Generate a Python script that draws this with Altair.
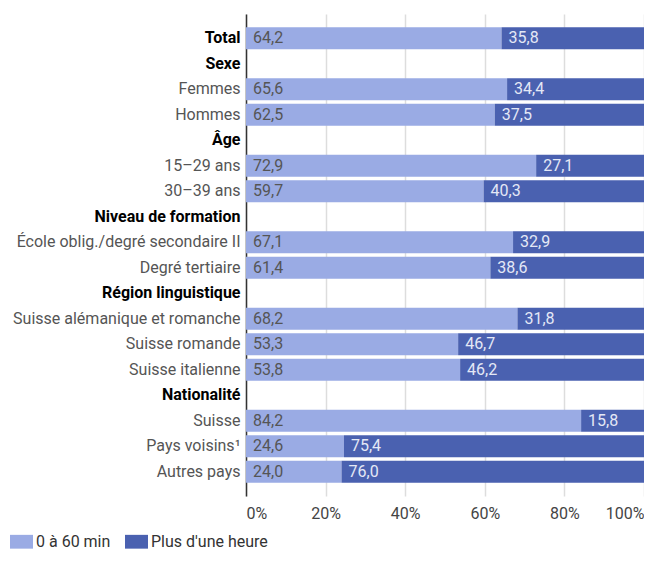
import altair as alt
import pandas as pd

categories = [
    "Total", "Sexe", "Femmes", "Hommes", "Âge", "15–29 ans", "30–39 ans",
    "Niveau de formation", "École oblig./degré secondaire II", "Degré tertiaire",
    "Région linguistique", "Suisse alémanique et romanche", "Suisse romande",
    "Suisse italienne", "Nationalité", "Suisse", "Pays voisins¹", "Autres pays",
]
bold_labels = ["Total", "Sexe", "Âge", "Niveau de formation", "Région linguistique", "Nationalité"]

data_categories = [
    "Total", "Femmes", "Hommes", "15–29 ans", "30–39 ans",
    "École oblig./degré secondaire II", "Degré tertiaire",
    "Suisse alémanique et romanche", "Suisse romande", "Suisse italienne",
    "Suisse", "Pays voisins¹", "Autres pays",
]
short_trip = [64.2, 65.6, 62.5, 72.9, 59.7, 67.1, 61.4, 68.2, 53.3, 53.8, 84.2, 24.6, 24.0]
long_trip = [35.8, 34.4, 37.5, 27.1, 40.3, 32.9, 38.6, 31.8, 46.7, 46.2, 15.8, 75.4, 76.0]
series = ["0 à 60 min", "Plus d'une heure"]
colors = ["#9aabe4", "#4a61b0"]

rows = []
for c, a, b in zip(data_categories, short_trip, long_trip):
    rows.append({"cat": c, "serie": series[0], "order": 0, "value": a,
                 "label": f"{a:.1f}".replace(".", ",")})
    rows.append({"cat": c, "serie": series[1], "order": 1, "value": b,
                 "label": f"{b:.1f}".replace(".", ",")})
df = pd.DataFrame(rows)

font = "Roboto"
fs = 16
bold_expr = "indexof(" + str(bold_labels).replace("'", '"') + ", datum.value) >= 0"

y = alt.Y(
    "cat:N",
    sort=categories,
    scale=alt.Scale(domain=categories, paddingInner=0.136, paddingOuter=0.52),
    axis=alt.Axis(
        title=None, ticks=False, grid=False, domain=True, domainColor="#333333",
        domainWidth=1.5, labelPadding=6, labelFont=font, labelFontSize=fs,
        labelColor=alt.ExprRef(expr=bold_expr + " ? '#000000' : '#555555'"),
        labelFontWeight=alt.ExprRef(expr=bold_expr + " ? 'bold' : 'normal'"),
        labelLimit=400,
    ),
)

base = alt.Chart(df).transform_stack(
    stack="value", groupby=["cat"], as_=["x0", "x1"],
    sort=[alt.SortField("order", order="ascending")],
)

bars = base.mark_bar().encode(
    y=y,
    x=alt.X(
        "x0:Q",
        scale=alt.Scale(domain=[0, 100], nice=False),
        axis=alt.Axis(
            title=None, values=[0, 20, 40, 60, 80, 100], labelExpr="datum.value + '%'",
            grid=True, gridColor="#dddddd", gridWidth=1.5, ticks=False, domain=False,
            labelFont=font, labelFontSize=fs, labelColor="#444444", labelPadding=9,
        ),
    ),
    x2="x1:Q",
    color=alt.Color(
        "serie:N",
        scale=alt.Scale(domain=series, range=colors),
        legend=alt.Legend(
            title=None, orient="none", direction="horizontal", legendX=-236, legendY=516,
            symbolType="M-1,-0.6H1V0.6H-1Z", symbolSize=529, symbolStrokeWidth=0,
            symbolOpacity=1, labelFont=font, labelFontSize=fs, labelColor="#333333",
            labelOffset=3, columnPadding=14,
        ),
    ),
)

text = base.mark_text(align="left", baseline="middle", dx=7, font=font, fontSize=fs).encode(
    y=alt.Y("cat:N", sort=categories),
    x=alt.X("x0:Q"),
    text="label:N",
    color=alt.Color("serie:N", scale=alt.Scale(domain=series, range=["#555555", "#e4e8f6"]), legend=None),
)

chart = alt.layer(bars, text).resolve_scale(color="independent").properties(
    width=398, height=482,
    autosize=alt.AutoSizeParams(type="none"),
    padding={"left": 238, "top": 6, "right": 0, "bottom": 55},
).configure_view(stroke=None)

chart.save("out.html", embed_options={"renderer": "svg", "actions": False})
